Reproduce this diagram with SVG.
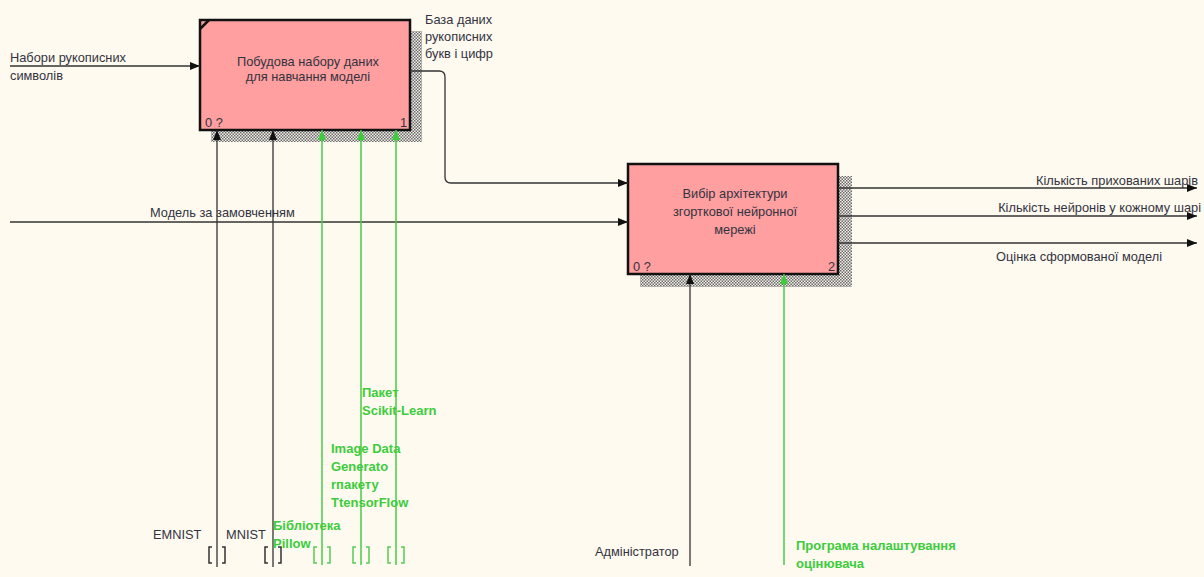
<svg xmlns="http://www.w3.org/2000/svg" width="1204" height="577" viewBox="0 0 1204 577">
  <defs>
    <pattern id="hatch" width="3" height="3" patternUnits="userSpaceOnUse">
      <rect width="3" height="3" fill="#f4f1ea"/>
      <rect x="0" y="0" width="1.5" height="1.5" fill="#6a6a6a"/>
      <rect x="1.5" y="1.5" width="1.5" height="1.5" fill="#6a6a6a"/>
    </pattern>
    <marker id="ah" viewBox="0 0 10 8" refX="10" refY="4" markerWidth="10" markerHeight="8" markerUnits="userSpaceOnUse" orient="auto">
      <path d="M0,0 L10,4 L0,8 Z" fill="#111"/>
    </marker>
    <marker id="ahg" viewBox="0 0 10 8" refX="10" refY="4" markerWidth="10" markerHeight="8" markerUnits="userSpaceOnUse" orient="auto">
      <path d="M0,0 L10,4 L0,8 Z" fill="#3ccc3c"/>
    </marker>
  </defs>
  <style>
    .bg { fill: #fefaf0; }
    .shadow { fill: url(#hatch); }
    .box { fill: #ff9f9f; stroke: #111; stroke-width: 2.5; }
    .t { font-family: "Liberation Sans", Arial, sans-serif; font-size: 12.8px; fill: #333340; }
    .tc { text-anchor: middle; }
    .tr { text-anchor: end; }
    .g { font-family: "Liberation Sans", Arial, sans-serif; font-size: 13px; font-weight: bold; fill: #3ccc3c; }
    .ln { fill: none; stroke: #333; stroke-width: 1.3; }
    .lg { fill: none; stroke: #44cc44; stroke-width: 1.5; }
    .br { fill: none; stroke: #333; stroke-width: 1.5; }
    .brg { fill: none; stroke: #55cc55; stroke-width: 1.5; }
  </style>

  <rect class="bg" width="1204" height="577"/>

  <!-- Activity 1 -->
  <g id="node-1">
    <rect class="shadow" x="211" y="31" width="211" height="111"/>
    <rect class="box" x="200" y="20" width="210" height="110"/>
    <path d="M200,29 L209,20" stroke="#111" stroke-width="2.5"/>
    <text class="t tc" x="308" y="66">Побудова набору даних</text>
    <text class="t tc" x="308" y="81">для навчання моделі</text>
    <text class="t" x="205" y="127">0 ?</text>
    <text class="t tr" x="407" y="127">1</text>
  </g>

  <!-- Activity 2 -->
  <g id="node-2">
    <rect class="shadow" x="640" y="176" width="212" height="111"/>
    <rect class="box" x="628" y="164" width="210" height="110"/>
    <text class="t tc" x="735" y="198">Вибір архітектури</text>
    <text class="t tc" x="735" y="216">згорткової нейронної</text>
    <text class="t tc" x="735" y="234">мережі</text>
    <text class="t" x="633" y="271">0 ?</text>
    <text class="t tr" x="835" y="271">2</text>
  </g>

  <g id="connectors">
    <!-- inputs -->
    <path class="ln" d="M10,66 H200" marker-end="url(#ah)"/>
    <path class="ln" d="M10,222 H628" marker-end="url(#ah)"/>
    <path class="ln" d="M410,71 H439 Q445,71 445,77 V177 Q445,183 451,183 H628" marker-end="url(#ah)"/>
    <!-- outputs -->
    <path class="ln" d="M838,188 H1197" marker-end="url(#ah)"/>
    <path class="ln" d="M838,216 H1197" marker-end="url(#ah)"/>
    <path class="ln" d="M838,243 H1197" marker-end="url(#ah)"/>
    <!-- mechanisms, activity 1 -->
    <path class="ln" d="M217,567 V130" marker-end="url(#ah)"/>
    <path class="ln" d="M273,567 V130" marker-end="url(#ah)"/>
    <path class="lg" d="M322,565 V130" marker-end="url(#ahg)"/>
    <path class="lg" d="M361,565 V130" marker-end="url(#ahg)"/>
    <path class="lg" d="M396,565 V130" marker-end="url(#ahg)"/>
    <!-- mechanisms, activity 2 -->
    <path class="ln" d="M690,566 V274" marker-end="url(#ah)"/>
    <path class="lg" d="M784,565 V274" marker-end="url(#ahg)"/>
    <!-- tunnel brackets -->
    <path class="br" d="M212,547 H209 V563 H212 M222,547 H225 V563 H222"/>
    <path class="br" d="M268,547 H265 V563 H268 M278,547 H281 V563 H278"/>
    <path class="brg" d="M317,547 H314 V563 H317 M327,547 H330 V563 H327"/>
    <path class="brg" d="M356,547 H353 V563 H356 M366,547 H369 V563 H366"/>
    <path class="brg" d="M391,547 H388 V563 H391 M401,547 H404 V563 H401"/>
  </g>

  <g id="labels">
    <text class="t" x="10" y="62">Набори рукописних</text>
    <text class="t" x="10" y="80">символів</text>
    <text class="t" x="425" y="24">База даних</text>
    <text class="t" x="425" y="41">рукописних</text>
    <text class="t" x="425" y="58">букв і цифр</text>
    <text class="t" x="150" y="217">Модель за замовченням</text>
    <text class="t tr" x="1198" y="185">Кількість прихованих шарів</text>
    <text class="t tr" x="1201" y="212">Кількість нейронів у кожному шарі</text>
    <text class="t" x="996" y="261">Оцінка сформованої моделі</text>
    <text class="t" x="153" y="539">EMNIST</text>
    <text class="t" x="226" y="539">MNIST</text>
    <text class="g" x="273" y="530">Бібліотека</text>
    <text class="g" x="273" y="548">Pillow</text>
    <text class="g" x="331" y="453">Image Data</text>
    <text class="g" x="331" y="471">Generato</text>
    <text class="g" x="331" y="489">rпакету</text>
    <text class="g" x="331" y="507">TtensorFlow</text>
    <text class="g" x="362" y="397">Пакет</text>
    <text class="g" x="362" y="415">Scikit-Learn</text>
    <text class="t" x="595" y="556">Адміністратор</text>
    <text class="g" x="796" y="550">Програма налаштування</text>
    <text class="g" x="796" y="568">оцінювача</text>
  </g>
</svg>
